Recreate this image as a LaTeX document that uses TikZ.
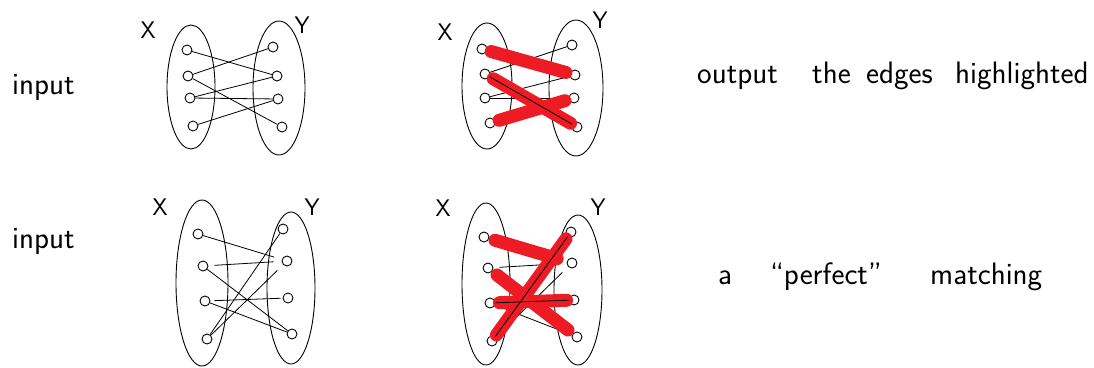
\documentclass[tikz,border=0pt]{standalone}
\usetikzlibrary{shapes.geometric}
\definecolor{hred}{RGB}{237,28,36}
\begin{document}
\begin{tikzpicture}[x=1pt,y=-1pt,
  vtx/.style={circle,draw,line width=0.9pt,minimum size=10pt,inner sep=0pt},
  setshape/.style={ellipse,draw,line width=0.9pt,inner sep=0pt},
  edge/.style={line width=0.8pt},
  hl/.style={line width=13pt,hred,line cap=round},
  lbl/.style={font=\sffamily\fontsize{31}{33}\selectfont,anchor=base west,inner sep=0pt},
  xy/.style={font=\sffamily\fontsize{24}{26}\selectfont,inner sep=0pt}]
\useasboundingbox (0,0) rectangle (1094,367);
% ---------- Graph 1 ----------
\node[setshape,minimum width=48pt,minimum height=124pt] (g1L) at (191,87) {};
\node[setshape,minimum width=52pt,minimum height=134pt] (g1R) at (279,88) {};
\node[xy] (g1X) at (148,30) {X};
\node[xy] (g1Y) at (302,25) {Y};
\node[vtx] (g1x1) at (187,50) {};
\node[vtx] (g1x2) at (188,76) {};
\node[vtx] (g1x3) at (190,98) {};
\node[vtx] (g1x4) at (193,126) {};
\node[vtx] (g1y1) at (273,47) {};
\node[vtx] (g1y2) at (277,76) {};
\node[vtx] (g1y3) at (278,99) {};
\node[vtx] (g1y4) at (282,127) {};
\draw[edge] (g1x1) -- (g1y2);
\draw[edge] (g1x2) -- (g1y1);
\draw[edge] (g1x2) -- (g1y4);
\draw[edge] (g1x3) -- (g1y2);
\draw[edge] (g1x3) -- (g1y3);
\draw[edge] (g1x4) -- (g1y3);
% ---------- Graph 2 ----------
\node[setshape,minimum width=50pt,minimum height=126pt] (g2L) at (487,86) {};
\node[setshape,minimum width=54pt,minimum height=136pt] (g2R) at (576,88) {};
\node[xy] (g2X) at (445,32) {X};
\node[xy] (g2Y) at (600,20) {Y};
\node[vtx] (g2x1) at (482,49) {};
\node[vtx] (g2x2) at (485,74) {};
\node[vtx] (g2x3) at (485,98) {};
\node[vtx] (g2x4) at (490,123) {};
\node[vtx] (g2y1) at (572,45) {};
\node[vtx] (g2y2) at (575,75) {};
\node[vtx] (g2y3) at (574,98) {};
\node[vtx] (g2y4) at (577,127) {};
\draw[edge] (g2x2) -- (g2y1);
\draw[edge] (g2x3) -- (g2y2);
\draw[edge] (g2x3) -- (g2y3);
\draw[hl,shorten <=4pt,shorten >=4pt] (g2x1) -- (g2y2);
\draw[hl,shorten <=4pt,shorten >=2pt] (g2x2) -- (g2y4);
\draw[hl,shorten <=4pt,shorten >=4pt] (g2x4) -- (g2y3);
\draw[edge] (g2x2) -- (g2y4);
% ---------- Graph 3 ----------
\node[setshape,minimum width=52pt,minimum height=166pt] (g3L) at (202,283) {};
\node[setshape,minimum width=48pt,minimum height=152pt] (g3R) at (291,288) {};
\node[xy] (g3X) at (160,207) {X};
\node[xy] (g3Y) at (312,207) {Y};
\node[vtx] (g3x1) at (198,234) {};
\node[vtx] (g3x2) at (203,266) {};
\node[vtx] (g3x3) at (205,301) {};
\node[vtx] (g3x4) at (207,339) {};
\node[vtx] (g3y1) at (283,229) {};
\node[vtx] (g3y2) at (287,261) {};
\node[vtx] (g3y3) at (288,298) {};
\node[vtx] (g3y4) at (292,334) {};
\draw[edge,shorten >=8pt] (g3x1) -- (g3y2);
\draw[edge,shorten <=6pt,shorten >=8pt] (g3x2) -- (g3y2);
\draw[edge] (g3x2) -- (g3y4);
\draw[edge,shorten <=4pt,shorten >=2pt] (g3x3) -- (g3y3);
\draw[edge] (g3x3) -- (g3y4);
\draw[edge] (g3x4) -- (g3y1);
\draw[edge,shorten >=8pt] (g3x4) -- (g3y2);
% ---------- Graph 4 ----------
\node[setshape,minimum width=48pt,minimum height=162pt] (g4L) at (486,284) {};
\node[setshape,minimum width=48pt,minimum height=150pt] (g4R) at (578,290) {};
\node[xy] (g4X) at (443,208) {X};
\node[xy] (g4Y) at (598,207) {Y};
\node[vtx] (g4x1) at (484,237) {};
\node[vtx] (g4x2) at (488,268) {};
\node[vtx] (g4x3) at (490,303) {};
\node[vtx] (g4x4) at (492,341) {};
\node[vtx] (g4y1) at (571,232) {};
\node[vtx] (g4y2) at (572,263) {};
\node[vtx] (g4y3) at (574,300) {};
\node[vtx] (g4y4) at (577,337) {};
\draw[edge,shorten <=6pt,shorten >=8pt] (g4x2) -- (g4y2);
\draw[edge,shorten >=8pt] (g4x4) -- (g4y2);
\draw[edge] (g4x3) -- (g4y4);
\draw[hl,shorten <=6pt,shorten >=10pt] (g4x1) -- (g4y2);
\draw[hl,shorten <=6pt,shorten >=6pt] (g4x2) -- (g4y4);
\draw[hl,shorten <=4pt,shorten >=2pt] (g4x3) -- (g4y3);
\draw[hl,shorten <=2pt,shorten >=3pt] (g4x4) -- (g4y1);
\draw[edge] (g4x4) -- (g4y1);
\draw[edge] (g4x3) -- (g4y3);
% ---------- Texts ----------
\node[lbl] (in1) at (12,94) {input};
\node[lbl] (in2) at (12,248) {input};
\node[lbl] (o1) at (697,83) {output};
\node[lbl] (o2) at (812,83) {the};
\node[lbl] (o3) at (866,83) {edges};
\node[lbl] (o4) at (955,83) {highlighted};
\node[lbl] (p1) at (718,284) {a};
\node[lbl] (p2) at (770,284) {``perfect''};
\node[lbl] (p3) at (930,284) {matching};
\end{tikzpicture}
\end{document}
